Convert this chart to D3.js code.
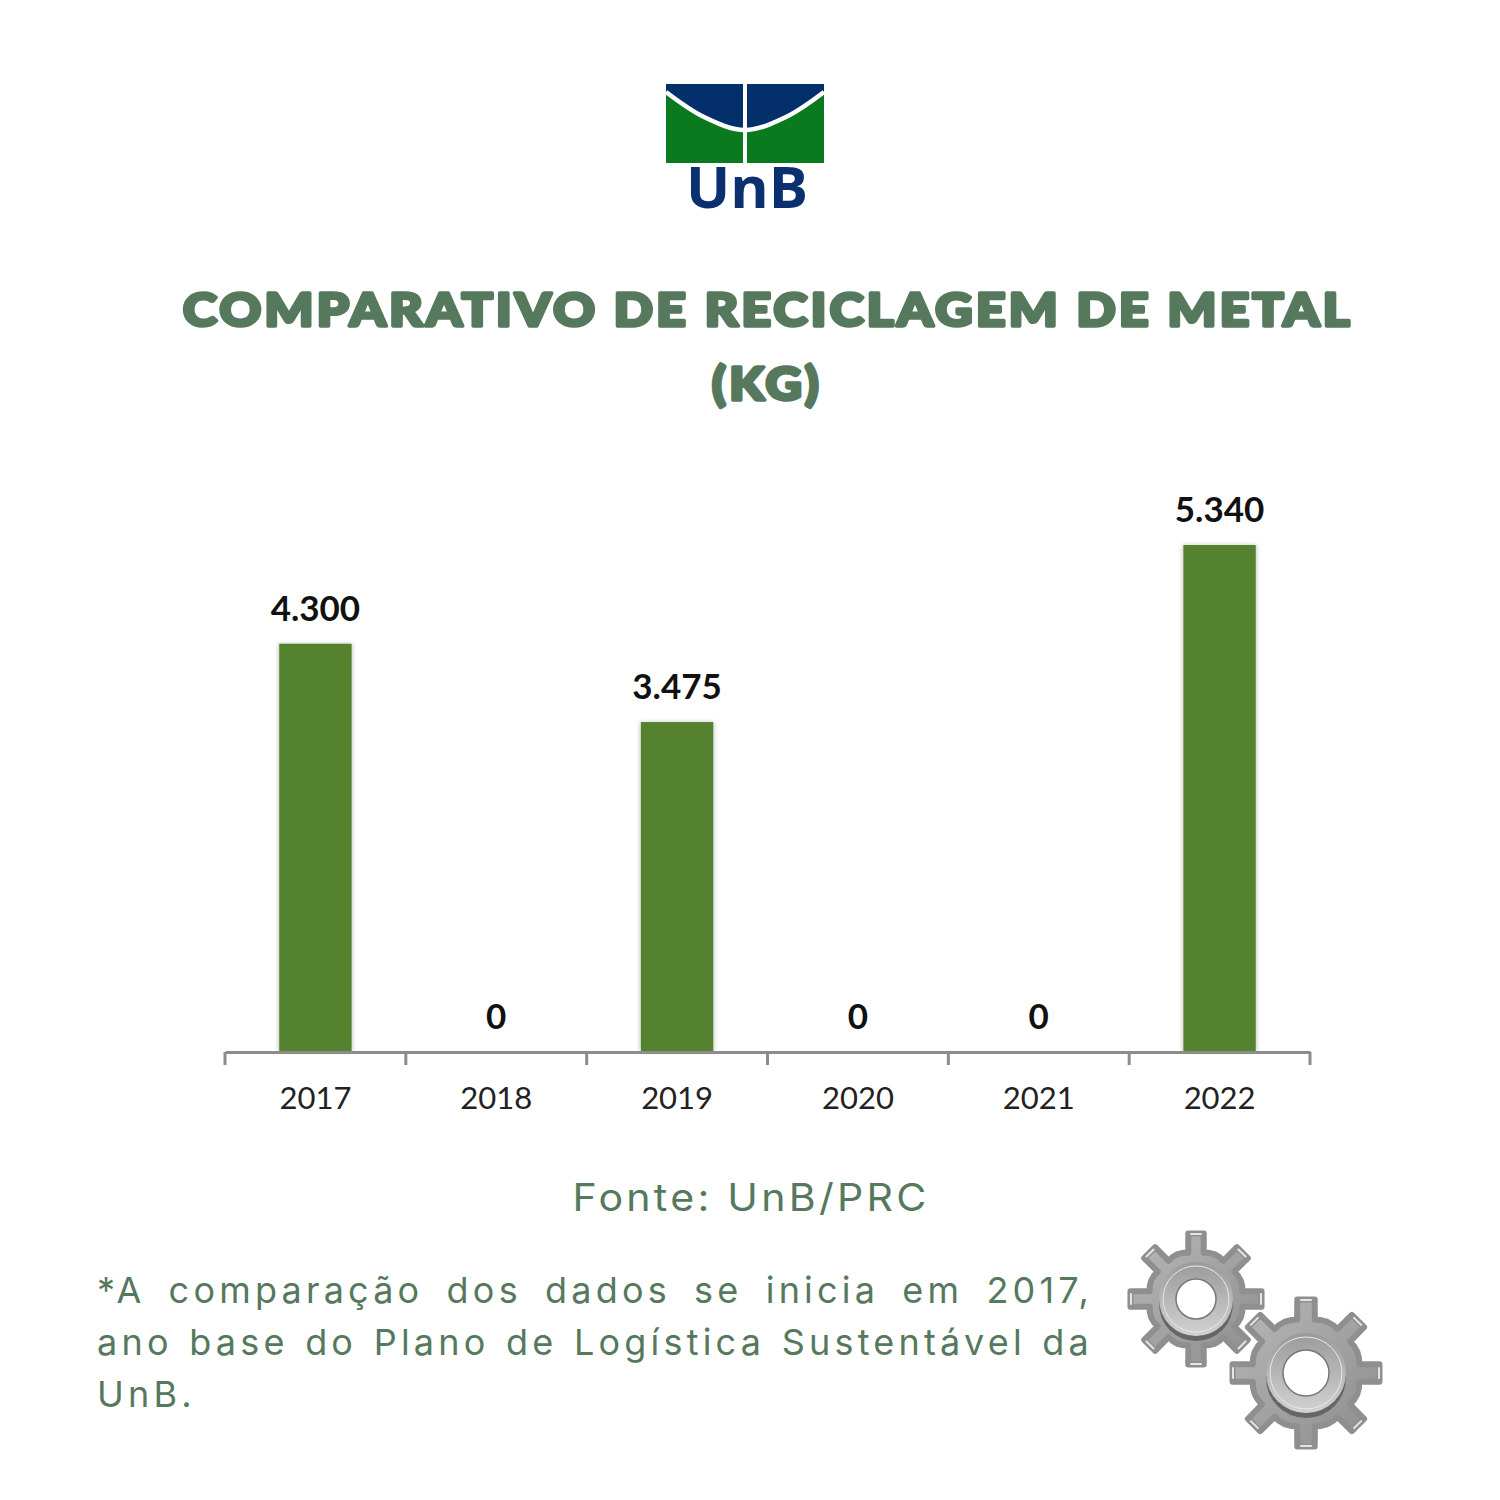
<!DOCTYPE html>
<html>
<head>
<meta charset="utf-8">
<script src="https://cdn.jsdelivr.net/npm/d3@7"></script>
<style>
  html, body { margin: 0; padding: 0; background: #fff; }
  svg { display: block; }
</style>
</head>
<body>
<div id="chart"></div>
<script>
const years = ["2017", "2018", "2019", "2020", "2021", "2022"];
const metalKg = [4300, 0, 3475, 0, 0, 5340];
const titleLines = ["COMPARATIVO DE RECICLAGEM DE METAL", "(KG)"];
const sourceText = "Fonte: UnB/PRC";
const noteLines = [
    "*A comparação dos dados se inicia em 2017,",
    "ano base do Plano de Logística Sustentável da",
    "UnB."
];

const GREEN_TEXT = "#56795e";
const svg = d3.select("#chart").append("svg")
    .attr("width", 1500)
    .attr("height", 1500);
const defs = svg.append("defs");

// Scales
const x = d3.scaleBand().domain(years).range([225, 1310]).paddingInner(0.6).paddingOuter(0.3);
const y = d3.scaleLinear().domain([0, 5340]).range([1052, 545]);
const fmt = d3.formatLocale({ decimal: ",", thousands: ".", grouping: [3], currency: ["R$", ""] }).format(",d");

defs.append("filter").attr("id", "barShadow")
    .attr("x", "-10%").attr("width", "120%")
    .append("feGaussianBlur").attr("stdDeviation", 2);

// Title
svg.selectAll(".title").data(titleLines).enter().append("text")
    .attr("class", "title")
    .attr("x", (d, i) => i === 0 ? 768 : 767)
    .attr("y", (d, i) => i === 0 ? 326 : 400)
    .attr("text-anchor", "middle")
    .attr("font-family", "Lato")
    .attr("font-weight", 900)
    .attr("font-size", 46)
    .attr("letter-spacing", 3)
    .attr("fill", GREEN_TEXT)
    .attr("stroke", GREEN_TEXT)
    .attr("stroke-width", 3.5)
    .attr("stroke-linejoin", "round")
    .attr("textLength", (d, i) => i === 0 ? 1170 : 110)
    .attr("lengthAdjust", "spacingAndGlyphs")
    .text(d => d);

// Bars
const chart = svg.append("g");
const shown = years.map((yr, i) => ({ yr, v: metalKg[i] }));
chart.selectAll(".shadow").data(shown.filter(d => d.v > 0)).enter().append("rect")
    .attr("class", "shadow")
    .attr("x", d => x(d.yr) - 1)
    .attr("y", d => y(d.v))
    .attr("width", x.bandwidth() + 2)
    .attr("height", d => y(0) - y(d.v))
    .attr("fill", "#000")
    .attr("opacity", 0.22)
    .attr("filter", "url(#barShadow)");
chart.selectAll(".bar").data(shown.filter(d => d.v > 0)).enter().append("rect")
    .attr("class", "bar")
    .attr("x", d => x(d.yr))
    .attr("y", d => y(d.v))
    .attr("width", x.bandwidth())
    .attr("height", d => y(0) - y(d.v))
    .attr("fill", "#55822f");

chart.selectAll(".val").data(shown).enter().append("text")
    .attr("class", "val")
    .attr("x", d => x(d.yr) + x.bandwidth() / 2)
    .attr("y", d => y(d.v) - 23)
    .attr("text-anchor", "middle")
    .attr("font-family", "Lato")
    .attr("font-weight", 700)
    .attr("font-size", 35)
    .attr("fill", "#111")
    .text(d => fmt(d.v));

// Axis: labels in the middle of a band, ticks on the band edges
const axis = chart.append("g")
    .attr("transform", `translate(0,${y(0)})`)
    .call(d3.axisBottom(x).tickSize(0).tickPadding(35));
axis.select(".domain").attr("stroke", "#8c8c8c").attr("stroke-width", 3);
axis.selectAll("text")
    .attr("font-family", "Lato")
    .attr("font-size", 31)
    .attr("fill", "#222");
const edges = d3.range(years.length + 1).map(i => 225 + i * x.step());
axis.selectAll(".edge").data(edges).enter().append("line")
    .attr("class", "edge")
    .attr("x1", d => d).attr("x2", d => d)
    .attr("y1", 0).attr("y2", 13)
    .attr("stroke", "#8c8c8c")
    .attr("stroke-width", 3);

// Source and note
svg.append("text")
    .attr("x", 751).attr("y", 1211)
    .attr("text-anchor", "middle")
    .attr("font-family", "Inter")
    .attr("font-size", 38)
    .attr("letter-spacing", 3)
    .attr("textLength", 357)
    .attr("lengthAdjust", "spacingAndGlyphs")
    .attr("fill", GREEN_TEXT)
    .text(sourceText);

const note = svg.selectAll(".note").data(noteLines).enter().append("text")
    .attr("class", "note")
    .attr("x", 97)
    .attr("y", (d, i) => 1303 + i * 52)
    .attr("font-family", "Inter")
    .attr("font-size", 36)
    .attr("letter-spacing", 4.2)
    .attr("fill", GREEN_TEXT)
    .text(d => d);
// Justify the first two lines by widening the word gaps
note.filter((d, i) => i < 2).each(function(d) {
    const gaps = d.split(" ").length - 1;
    const extra = (996 - this.getComputedTextLength()) / gaps;
    d3.select(this).attr("word-spacing", extra);
});

// UnB logo
const logo = svg.append("g");
const arc = [[666, 92], [704, 117], [745, 130], [786, 117], [824, 92]];
const curveLine = d3.line().curve(d3.curveCatmullRom);
logo.append("rect").attr("x", 666).attr("y", 84).attr("width", 158).attr("height", 79).attr("fill", "#0b7a1e");
logo.append("path")
    .attr("d", curveLine(arc) + "L824,84L666,84Z")
    .attr("fill", "#03306b");
logo.append("path")
    .attr("d", curveLine(arc))
    .attr("fill", "none")
    .attr("stroke", "#fff")
    .attr("stroke-width", 4.5);
logo.append("rect").attr("x", 743).attr("y", 84).attr("width", 4).attr("height", 79).attr("fill", "#fff");
logo.append("text")
    .attr("x", 747).attr("y", 208)
    .attr("text-anchor", "middle")
    .attr("font-family", "Open Sans")
    .attr("font-weight", 700)
    .attr("font-size", 58)
    .attr("textLength", 122)
    .attr("lengthAdjust", "spacingAndGlyphs")
    .attr("fill", "#0a3070")
    .text("UnB");

// Gears
function gearPath(outer, root, teeth) {
    const pts = [];
    const half = Math.PI / teeth;
    d3.range(teeth).forEach(i => {
        const a = i * 2 * half;
        pts.push([a - half * 0.42, root], [a - half * 0.3, outer], [a + half * 0.3, outer], [a + half * 0.42, root],
            [a + half * 0.7, root + 1], [a + half, root + 1.5], [a + half * 1.3, root + 1]);
    });
    return d3.lineRadial().angle(d => d[0]).radius(d => d[1]).curve(d3.curveLinearClosed)(pts);
}
const bodyGrad = defs.append("linearGradient").attr("id", "gearBody")
    .attr("x1", 0).attr("y1", 0).attr("x2", 1).attr("y2", 1);
bodyGrad.append("stop").attr("offset", "0%").attr("stop-color", "#b8b8b8");
bodyGrad.append("stop").attr("offset", "100%").attr("stop-color", "#8c8c8c");
const ringGrad = defs.append("linearGradient").attr("id", "gearRing")
    .attr("x1", 0).attr("y1", 0).attr("x2", 0).attr("y2", 1);
ringGrad.append("stop").attr("offset", "0%").attr("stop-color", "#9a9a9a");
ringGrad.append("stop").attr("offset", "100%").attr("stop-color", "#d2d2d2");

function gear(cx, cy, outer, root, ring, hole) {
    const g = svg.append("g").attr("transform", `translate(${cx},${cy})`);
    g.append("path").attr("d", gearPath(outer - 3, root - 3, 8))
        .attr("fill", "url(#gearBody)")
        .attr("stroke", "#8f8f8f")
        .attr("stroke-width", 6)
        .attr("stroke-linejoin", "round");
    // small highlight near each tooth tip
    g.selectAll(".glint").data(d3.range(8)).enter().append("line")
        .attr("class", "glint")
        .attr("transform", d => `rotate(${d * 45})`)
        .attr("x1", -5).attr("x2", 5)
        .attr("y1", -(outer - 4)).attr("y2", -(outer - 4))
        .attr("stroke", "#e6e6e6")
        .attr("stroke-width", 2)
        .attr("stroke-linecap", "round");
    g.append("circle").attr("cy", 5).attr("r", ring).attr("fill", "#666");
    g.append("circle").attr("r", ring).attr("fill", "url(#gearRing)");
    g.append("circle").attr("r", ring - 4).attr("fill", "none").attr("stroke", "#e8e8e8").attr("stroke-width", 1);
    g.append("circle").attr("r", hole).attr("fill", "#fff").attr("stroke", "#777").attr("stroke-width", 1.5);
}
gear(1196, 1299, 69, 50, 37, 20);
gear(1306, 1373, 77, 57, 40, 23);
</script>
</body>
</html>
